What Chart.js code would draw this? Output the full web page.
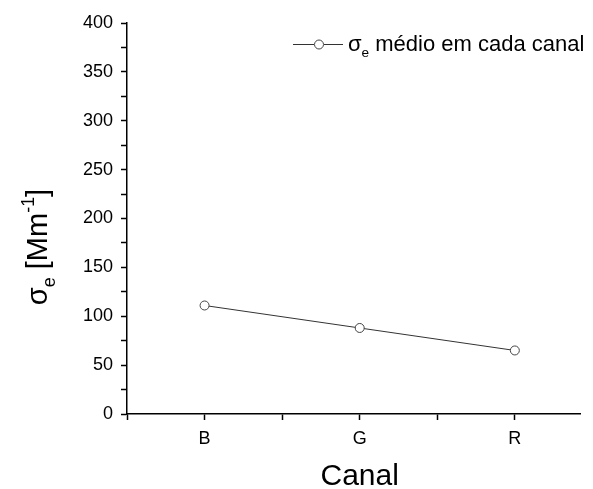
<!DOCTYPE html>
<html>
<head>
<meta charset="utf-8">
<script src="https://cdn.jsdelivr.net/npm/chart.js@4"></script>
<style>
  html, body { margin: 0; padding: 0; background: #fff; }
  #wrap { width: 593px; height: 489px; }
</style>
</head>
<body>
<div id="wrap"><canvas id="chart"></canvas></div>
<script>
// ===== DATA =====
const canais = ["B", "G", "R"];
const sigmaMedio = [111, 88, 65];
const yTicks = [0, 50, 100, 150, 200, 250, 300, 350, 400];

const FONT = "'Liberation Sans', Arial, sans-serif";

// draws text with a subscript / superscript piece
function drawRich(ctx, parts, x, y, size){
    parts.forEach(p => {
        let fs = p.sub || p.sup ? size * 0.62 : size;
        let dy = p.sub ? size * 0.28 : p.sup ? -size * 0.45 : 0;
        ctx.font = fs + "px " + FONT;
        ctx.fillText(p.t, x, y + dy);
        x += ctx.measureText(p.t).width;
    });
    return x;
}
function richWidth(ctx, parts, size){
    let w = 0;
    parts.forEach(p => {
        let fs = p.sub || p.sup ? size * 0.62 : size;
        ctx.font = fs + "px " + FONT;
        w += ctx.measureText(p.t).width;
    });
    return w;
}

// ===== AXIS TITLES + LEGEND =====
const richText = {
    id: "richText",
    afterDraw(chart){
        const ctx = chart.ctx;
        ctx.save();
        ctx.fillStyle = "#000";
        ctx.textBaseline = "alphabetic";

        // x axis title, centred under G
        ctx.font = "30px " + FONT;
        ctx.textAlign = "center";
        ctx.fillText("Canal", chart.scales.x.getPixelForValue(2), 485);
        ctx.textAlign = "left";

        // y axis title, rotated
        const yParts = [{t: "σ"}, {t: "e", sub: true}, {t: " [Mm"}, {t: "-1", sup: true}, {t: "]"}];
        const w = richWidth(ctx, yParts, 29);
        ctx.translate(47, 247);
        ctx.rotate(-Math.PI / 2);
        drawRich(ctx, yParts, -w / 2, 0, 29);
        ctx.restore();

        // legend
        ctx.save();
        ctx.strokeStyle = "#333";
        ctx.lineWidth = 1;
        ctx.beginPath();
        ctx.moveTo(293, 44.5); ctx.lineTo(314, 44.5);
        ctx.moveTo(324, 44.5); ctx.lineTo(343, 44.5);
        ctx.stroke();
        ctx.beginPath();
        ctx.arc(319, 44.5, 4.5, 0, Math.PI * 2);
        ctx.fillStyle = "#fff";
        ctx.fill();
        ctx.strokeStyle = "#444";
        ctx.stroke();
        ctx.fillStyle = "#000";
        drawRich(ctx, [{t: "σ"}, {t: "e", sub: true}, {t: " médio em cada canal"}], 348, 51, 22);
        ctx.restore();
    }
};

new Chart(document.getElementById("chart"), {
    type: "line",
    data: {
        datasets: [{
            label: "σe médio em cada canal",
            data: sigmaMedio.map((v, i) => ({x: i + 1, y: v})),
            borderColor: "#333",
            borderWidth: 1,
            pointRadius: 4.5,
            pointBorderWidth: 1,
            pointBorderColor: "#444",
            pointBackgroundColor: "#fff",
            tension: 0
        }]
    },
    options: {
        responsive: true,
        maintainAspectRatio: false,
        animation: false,
        layout: {padding: {top: 23, right: 13, left: 0, bottom: 0}},
        plugins: {legend: {display: false}, tooltip: {enabled: false}},
        scales: {
            x: {
                type: "linear",
                min: 0.5,
                max: 3.42,
                afterFit: s => { s.height = 75; },
                border: {color: "#000", width: 1.5},
                grid: {drawOnChartArea: false, tickLength: 6, color: "#000", tickWidth: 1.5},
                ticks: {
                    stepSize: 0.5,
                    includeBounds: false,
                    autoSkip: false,
                    maxRotation: 0,
                    padding: 8,
                    color: "#000",
                    font: {family: FONT, size: 18},
                    callback: v => Number.isInteger(v) ? canais[v - 1] : ""
                }
            },
            y: {
                min: 0,
                max: 400,
                afterFit: s => { s.width = 127; },
                border: {color: "#000", width: 1.5},
                grid: {drawOnChartArea: false, tickLength: 6, color: "#000", tickWidth: 1.5},
                ticks: {
                    stepSize: 25,
                    autoSkip: false,
                    padding: 8,
                    color: "#000",
                    font: {family: FONT, size: 18},
                    callback: v => yTicks.includes(v) ? v : ""
                }
            }
        }
    },
    plugins: [richText]
});
</script>
</body>
</html>
